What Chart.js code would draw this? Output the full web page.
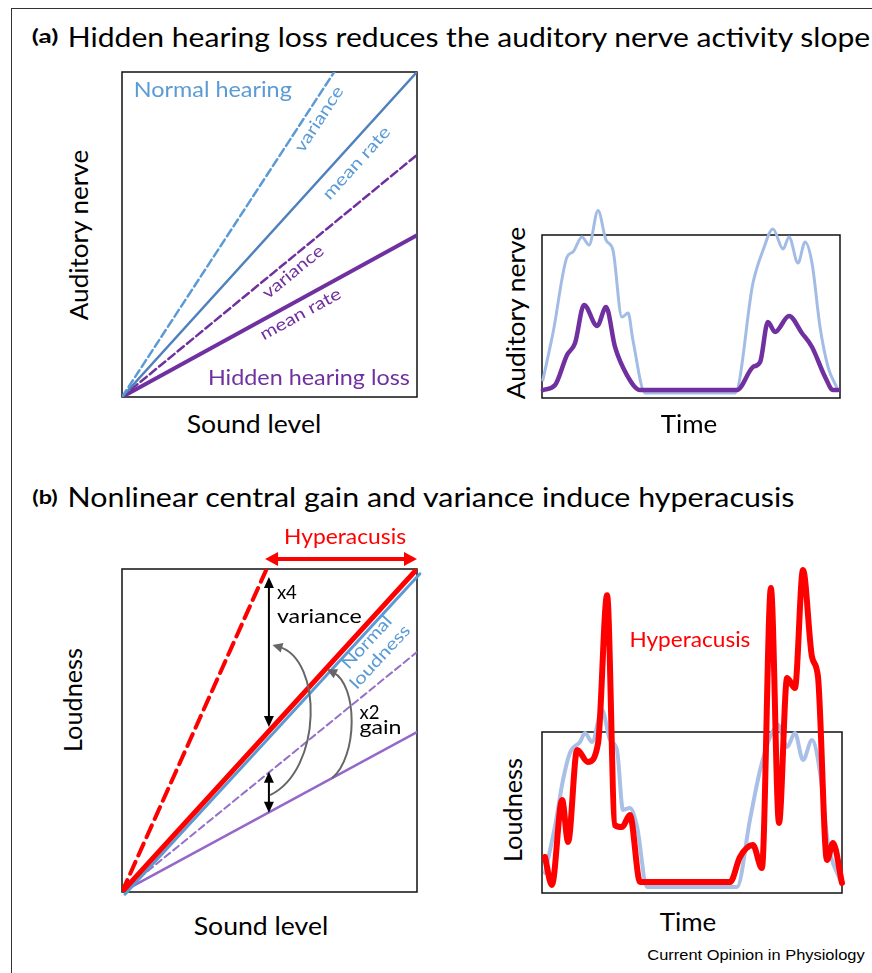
<!DOCTYPE html>
<html lang="en">
<head>
<meta charset="UTF-8">
<title>Hidden hearing loss and hyperacusis</title>
<script src="https://cdn.jsdelivr.net/npm/chart.js"></script>
<style>
  html, body { margin: 0; padding: 0; background: #fff; }
  body { width: 872px; height: 973px; position: relative; overflow: hidden; font-family: Lato, "Open Sans", sans-serif; }
  .frame { position: absolute; left: 11px; top: 8px; right: -5px; bottom: -5px; border-top: 1.5px solid #333; border-left: 1.5px solid #333; }
  canvas { position: absolute; }
  .lbl { position: absolute; white-space: nowrap; line-height: 1; color: #000; }
</style>
</head>
<body>
<div class="frame"></div>
<canvas id="c1" width="315" height="345" style="left:112px;top:62px"></canvas>
<canvas id="c2" width="318" height="213" style="left:532px;top:195px"></canvas>
<canvas id="c3" width="315" height="382" style="left:112px;top:520px"></canvas>
<canvas id="c4" width="320" height="353" style="left:532px;top:550px"></canvas>
<script>
// ---- panel (a), left: activity vs sound level (end points of straight lines)
const levelA = [0, 1];
const nhVarianceA = [0, 1.39];
const nhMeanA = [0, 1];
const hhlVarianceA = [0, 0.745];
const hhlMeanA = [0, 0.498];

// ---- panel (a), right: auditory nerve activity over time
const timeNH = [0.3, 3.7, 8.4, 10.4, 13.4, 15.8, 18.8, 21.5, 23.8, 26.8, 28.9, 30.5, 34.6, 64.8, 70.8, 74.2, 77.5, 80.9, 82.9, 85.9, 88.3, 90.6, 93.3, 96, 99];
const nerveNH = [11, 40, 86.5, 89.6, 98.8, 93.9, 115, 96.9, 90.8, 49.7, 52.1, 35.6, 3.1, 3.1, 70.6, 90.8, 103.7, 91.4, 98.8, 82.8, 95.7, 82.8, 43.6, 19, 6.1];
const timeHHL = [0.3, 4.4, 8.4, 11.1, 14.1, 18.5, 21.5, 24.5, 28.5, 32.9, 65.4, 70.8, 73.2, 75.8, 78.2, 82.9, 87.2, 90.6, 95, 97.7, 99.3];
const nerveHHL = [4.9, 8, 26.4, 33.7, 57.1, 44.2, 55.8, 31.3, 14.1, 4.9, 4.9, 19, 22.1, 46.6, 40.5, 50.3, 39.9, 31.3, 12.9, 4.9, 4.9];

// ---- panel (b), left: loudness vs sound level
const levelB = [0, 1];
const levelNormalB = [0.01, 1.01];
const hyperVarB = [0, 2.04];
const hyperMeanB = [0, 1];
const normalLoudB = [-0.007, 0.985];
const hhlVarB = [0, 0.743];
const hhlMeanB = [0, 0.495];

// ---- panel (b), right: loudness over time
const timeLoudNH = [1, 4.3, 7, 9.3, 12.7, 14.3, 16.7, 20, 22.7, 25, 27, 29.3, 31.7, 35, 65, 69.3, 72.7, 76, 78.7, 81.7, 84.3, 87, 90, 92.7, 95.3, 99.3];
const loudNH = [12.4, 41, 70.2, 87, 93.8, 99.4, 93.8, 113.7, 95, 88.8, 51.6, 52.8, 41, 3.7, 3.7, 45.3, 76.4, 96.9, 104.3, 90.7, 99.4, 82.6, 95, 74.5, 31.1, 8.1];
const timeHyper = [1, 3.3, 6.7, 8.7, 11.7, 15.3, 18.7, 21.7, 24.3, 26.7, 29.3, 32.7, 62.7, 66, 70.3, 73.3, 76.3, 79, 81.7, 84.3, 87, 90, 92, 95, 97, 100];
const loudHyper = [22.4, 5, 57.8, 31.7, 88.8, 81.4, 93.2, 185, 42.2, 41, 48.4, 6.8, 6.8, 22.4, 29.8, 15.5, 189.4, 43.5, 133.5, 127.3, 200.6, 146.6, 134.2, 20.5, 31.1, 6.2];

const pts = (xs, ys) => xs.map((x, i) => ({ x: x, y: ys[i] }));

// box round the plot area
const framePlugin = {
  id: 'frame',
  beforeDatasetsDraw(chart) {
    const a = chart.chartArea, ctx = chart.ctx;
    ctx.save();
    ctx.strokeStyle = '#111';
    ctx.lineWidth = 1.5;
    ctx.strokeRect(a.left, a.top, a.right - a.left, a.bottom - a.top);
    ctx.restore();
  }
};

function arrowHead(ctx, x, y, ang, len, wid) {
  const c = Math.cos(ang), s = Math.sin(ang);
  ctx.beginPath();
  ctx.moveTo(x, y);
  ctx.lineTo(x - len * c + wid * s, y - len * s - wid * c);
  ctx.lineTo(x - len * c - wid * s, y - len * s + wid * c);
  ctx.closePath();
  ctx.fill();
}

// labels and arrows placed in data units
function notes(spec) {
  return {
    id: 'notes',
    afterDatasetsDraw(chart) {
      const ctx = chart.ctx, xs = chart.scales.x, ys = chart.scales.y;
      const px = v => xs.getPixelForValue(v), py = v => ys.getPixelForValue(v);
      (spec.arrows || []).forEach(a => {
        ctx.save();
        ctx.strokeStyle = a.color; ctx.fillStyle = a.color; ctx.lineWidth = a.width;
        if (a.type === 'line') {
          const x0 = px(a.from[0]), y0 = py(a.from[1]), x1 = px(a.to[0]), y1 = py(a.to[1]);
          const ang = Math.atan2(y1 - y0, x1 - x0), c = Math.cos(ang), s = Math.sin(ang);
          ctx.beginPath();
          ctx.moveTo(x0 + c * a.len * 0.8, y0 + s * a.len * 0.8);
          ctx.lineTo(x1 - c * a.len * 0.8, y1 - s * a.len * 0.8);
          ctx.stroke();
          arrowHead(ctx, x1, y1, ang, a.len, a.wid);
          arrowHead(ctx, x0, y0, ang + Math.PI, a.len, a.wid);
        } else {
          const p = a.pts.map(q => [px(q[0]), py(q[1])]);
          const ang = Math.atan2(p[3][1] - p[2][1], p[3][0] - p[2][0]);
          ctx.beginPath();
          ctx.moveTo(p[0][0], p[0][1]);
          ctx.bezierCurveTo(p[1][0], p[1][1], p[2][0], p[2][1],
            p[3][0] - Math.cos(ang) * a.len * 0.7, p[3][1] - Math.sin(ang) * a.len * 0.7);
          ctx.stroke();
          arrowHead(ctx, p[3][0], p[3][1], ang, a.len, a.wid);
        }
        ctx.restore();
      });
      (spec.texts || []).forEach(t => {
        ctx.save();
        ctx.font = t.size + 'px Lato, "Open Sans", sans-serif';
        ctx.fillStyle = t.color;
        ctx.textBaseline = 'middle';
        ctx.textAlign = t.align || 'center';
        ctx.translate(px(t.x), py(t.y));
        if (t.along !== undefined) {
          const d = chart.data.datasets[t.along].data;
          const a = d[0], b = d[d.length - 1];
          ctx.rotate(Math.atan2(py(b.y) - py(a.y), px(b.x) - px(a.x)));
        }
        if (t.w) ctx.scale(t.w / ctx.measureText(t.text).width, 1);
        ctx.fillText(t.text, 0, 0);
        ctx.restore();
      });
    }
  };
}

function baseOptions(ymax, pad) {
  return {
    responsive: false,
    animation: false,
    layout: { padding: pad },
    plugins: { legend: { display: false }, tooltip: { enabled: false } },
    elements: { point: { radius: 0 }, line: { borderCapStyle: 'round', borderJoinStyle: 'round' } },
    scales: {
      x: { type: 'linear', display: false, min: 0, max: ymax.x },
      y: { type: 'linear', display: false, min: 0, max: ymax.y }
    }
  };
}

// (a) left
new Chart(document.getElementById('c1'), {
  type: 'line',
  data: {
    datasets: [
      { data: pts(levelA, nhVarianceA), borderColor: '#5b9bd5', borderWidth: 2.5, borderDash: [8, 4] },
      { data: pts(levelA, nhMeanA), borderColor: '#4f81bd', borderWidth: 2.5 },
      { data: pts(levelA, hhlVarianceA), borderColor: '#7030a0', borderWidth: 2.5, borderDash: [8, 4] },
      { data: pts(levelA, hhlMeanA), borderColor: '#7030a0', borderWidth: 4 }
    ]
  },
  options: baseOptions({ x: 1, y: 1 }, { left: 10, top: 10, right: 10, bottom: 10 }),
  plugins: [framePlugin, notes({
    texts: [
      { text: 'Normal hearing', x: 0.04, y: 0.945, color: '#5b9bd5', size: 21, align: 'left', w: 158 },
      { text: 'variance', x: 0.668, y: 0.855, color: '#5b9bd5', size: 17, along: 0, w: 75 },
      { text: 'mean rate', x: 0.795, y: 0.72, color: '#5b9bd5', size: 17, along: 1, w: 92 },
      { text: 'variance', x: 0.58, y: 0.385, color: '#7030a0', size: 17, along: 2, w: 74 },
      { text: 'mean rate', x: 0.605, y: 0.255, color: '#7030a0', size: 17, along: 3, w: 90 },
      { text: 'Hidden hearing loss', x: 0.976, y: 0.058, color: '#7030a0', size: 21, align: 'right', w: 202 }
    ]
  })]
});

// (a) right
new Chart(document.getElementById('c2'), {
  type: 'line',
  data: {
    datasets: [
      { data: pts(timeHHL, nerveHHL), borderColor: '#7030a0', borderWidth: 4.5, cubicInterpolationMode: 'monotone', clip: false },
      { data: pts(timeNH, nerveNH), borderColor: '#a3bce6', borderWidth: 3, cubicInterpolationMode: 'monotone', clip: false }
    ]
  },
  options: baseOptions({ x: 100, y: 100 }, { left: 10, top: 40, right: 10, bottom: 10 }),
  plugins: [framePlugin]
});

// (b) left
new Chart(document.getElementById('c3'), {
  type: 'line',
  data: {
    datasets: [
      { data: pts(levelB, hyperMeanB), borderColor: '#ff0000', borderWidth: 5 },
      { data: pts(levelB, hyperVarB), borderColor: '#ff0000', borderWidth: 4, borderDash: [13, 7] },
      { data: pts(levelNormalB, normalLoudB), borderColor: '#5b9bd5', borderWidth: 3, clip: false },
      { data: pts(levelB, hhlVarB), borderColor: '#9470c9', borderWidth: 2, borderDash: [7, 4] },
      { data: pts(levelB, hhlMeanB), borderColor: '#9467c8', borderWidth: 2.5 }
    ]
  },
  options: baseOptions({ x: 1, y: 1 }, { left: 10, top: 49, right: 10, bottom: 10 }),
  plugins: [framePlugin, notes({
    arrows: [
      { type: 'line', from: [0.485, 1.031], to: [1.0, 1.031], color: '#ff0000', width: 4, len: 13, wid: 7 },
      { type: 'line', from: [0.498, 0.975], to: [0.498, 0.511], color: '#000', width: 2, len: 11, wid: 5 },
      { type: 'line', from: [0.498, 0.372], to: [0.498, 0.245], color: '#000', width: 2, len: 11, wid: 5 },
      { type: 'curve', pts: [[0.502, 0.30], [0.68, 0.38], [0.68, 0.72], [0.51, 0.765]], color: '#666', width: 2, len: 10, wid: 5 },
      { type: 'curve', pts: [[0.712, 0.352], [0.80, 0.42], [0.80, 0.64], [0.695, 0.69]], color: '#666', width: 2, len: 10, wid: 5 }
    ],
    texts: [
      { text: 'Hyperacusis', x: 0.756, y: 1.099, color: '#ff0000', size: 21, w: 122 },
      { text: 'x4', x: 0.525, y: 0.926, color: '#000', size: 20, align: 'left', w: 20 },
      { text: 'variance', x: 0.525, y: 0.854, color: '#000', size: 20, align: 'left', w: 85 },
      { text: 'x2', x: 0.805, y: 0.557, color: '#000', size: 20, align: 'left', w: 20 },
      { text: 'gain', x: 0.805, y: 0.508, color: '#000', size: 20, align: 'left', w: 42 },
      { text: 'Normal', x: 0.83, y: 0.773, color: '#5b9bd5', size: 17, along: 2, w: 65 },
      { text: 'loudness', x: 0.875, y: 0.728, color: '#5b9bd5', size: 17, along: 2, w: 80 }
    ]
  })]
});

// (b) right
new Chart(document.getElementById('c4'), {
  type: 'line',
  data: {
    datasets: [
      { data: pts(timeHyper, loudHyper), borderColor: '#ff0000', borderWidth: 6, cubicInterpolationMode: 'monotone', clip: false },
      { data: pts(timeLoudNH, loudNH), borderColor: '#a9bfe6', borderWidth: 4, cubicInterpolationMode: 'monotone', clip: false }
    ]
  },
  options: baseOptions({ x: 100, y: 100 }, { left: 10, top: 182, right: 10, bottom: 10 }),
  plugins: [framePlugin, notes({
    texts: [
      { text: 'Hyperacusis', x: 49.3, y: 157, color: '#ff0000', size: 21, w: 121 }
    ]
  })]
});

// text outside the plots
function addLabel(text, cx, cy, width, size, opts) {
  opts = opts || {};
  const el = document.createElement('div');
  el.className = 'lbl';
  el.textContent = text;
  el.style.fontSize = size + 'px';
  if (opts.bold) el.style.fontWeight = 'bold';
  if (opts.font) el.style.fontFamily = opts.font;
  el.style.left = cx + 'px';
  el.style.top = cy + 'px';
  document.body.appendChild(el);
  const s = width / el.offsetWidth;
  el.style.transform = 'translate(-50%,-50%)' + (opts.rot ? ' rotate(-90deg)' : '') + ' scaleX(' + s + ')';
}

addLabel('(a)', 45, 36, 26, 18, { bold: true });
addLabel('Hidden hearing loss reduces the auditory nerve activity slope', 469, 36, 802, 27);
addLabel('Auditory nerve', 78, 235, 170, 25, { rot: true });
addLabel('Sound level', 254, 423, 134, 25);
addLabel('Auditory nerve', 515, 313, 172, 25, { rot: true });
addLabel('Time', 689, 423, 56, 25);
addLabel('(b)', 45, 497, 26, 18, { bold: true });
addLabel('Nonlinear central gain and variance induce hyperacusis', 431, 496, 727, 27);
addLabel('Loudness', 72, 700, 104, 25, { rot: true });
addLabel('Sound level', 261, 925, 134, 25);
addLabel('Loudness', 512, 810, 104, 25, { rot: true });
addLabel('Time', 688, 921, 56, 25);
addLabel('Current Opinion in Physiology', 756, 955, 217, 14, { font: '"Liberation Sans", Arial, sans-serif' });
</script>
</body>
</html>
